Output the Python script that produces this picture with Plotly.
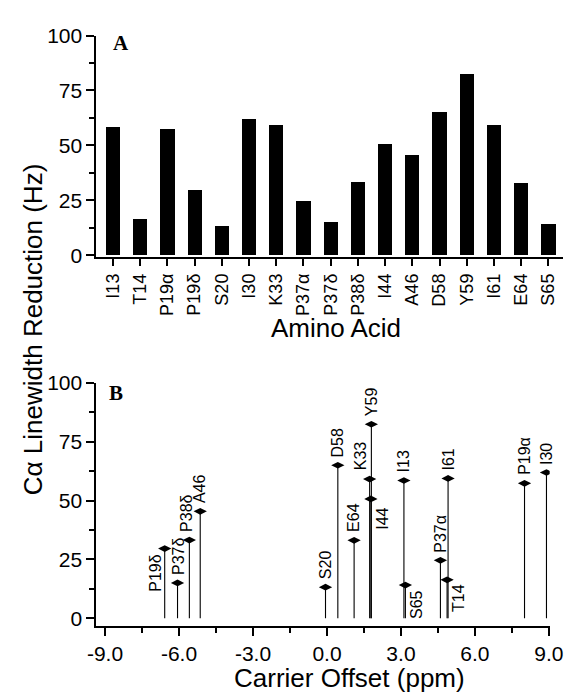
import plotly.graph_objects as go

# ---------------- data ----------------
residues = ["I13", "T14", "P19α", "P19δ", "S20", "I30", "K33", "P37α", "P37δ",
            "P38δ", "I44", "A46", "D58", "Y59", "I61", "E64", "S65"]
reduction_hz = [58.5, 16.3, 57.3, 29.6, 13.2, 61.9, 59.1, 24.6, 15.0,
                33.2, 50.7, 45.4, 65.0, 82.4, 59.4, 33.1, 14.1]
offset_ppm = [3.12, 4.87, 8.01, -6.58, -0.06, 8.90, 1.73, 4.60, -6.06,
              -5.58, 1.78, -5.14, 0.44, 1.80, 4.91, 1.10, 3.18]
y_tickvals = [0, 25, 50, 75, 100]
y_ticktext = ["0", "25", "50", "75", "100"]
ppm_tickvals = [-9, -6, -3, 0, 3, 6, 9]
ppm_ticktext = ["-9.0", "-6.0", "-3.0", "0.0", "3.0", "6.0", "9.0"]

W, H = 580, 700
SANS = "Liberation Sans, Arial, Helvetica, sans-serif"
SERIF = "Liberation Serif, Times New Roman, serif"


def px(x):
    return x / W


def py(y):
    return 1 - y / H


fig = go.Figure()

# Panel A bars
fig.add_trace(go.Bar(x=residues, y=reduction_hz, width=0.52,
                     marker=dict(color="black", line=dict(width=0)),
                     xaxis="x", yaxis="y", showlegend=False))

# Panel B stems
sx, sy = [], []
for p, v in zip(offset_ppm, reduction_hz):
    sx += [p, p, None]
    sy += [0, v, None]
fig.add_trace(go.Scatter(x=sx, y=sy, mode="lines",
                         line=dict(color="black", width=1.1),
                         xaxis="x2", yaxis="y2", showlegend=False,
                         hoverinfo="skip"))
fig.add_trace(go.Scatter(x=offset_ppm, y=reduction_hz, mode="markers",
                         marker=dict(symbol="diamond-wide", size=9.5,
                                     color="black"),
                         xaxis="x2", yaxis="y2", showlegend=False,
                         text=residues))

# label placement in panel B: (xshift, yanchor, yshift)
special = {"P19δ": (-10, "top", -5), "K33": (-9, "bottom", 8),
           "I44": (12, "top", -8), "S65": (11, "top", -4),
           "T14": (12, "top", -3), "P38δ": (-3, "bottom", 7),
           "P37δ": (1, "bottom", 7)}
annotations = []
for name, p, v in zip(residues, offset_ppm, reduction_hz):
    xs, ya, ys = special.get(name, (0, "bottom", 7))
    annotations.append(dict(x=p, y=v, xref="x2", yref="y2", text=name,
                            showarrow=False, textangle=-90,
                            xanchor="center", yanchor=ya,
                            xshift=xs, yshift=ys, borderpad=0,
                            font=dict(family=SANS, size=16, color="black")))

# titles and panel letters
annotations += [
    dict(x=px(25), y=py(327), xref="paper", yref="paper",
         text="Cα Linewidth Reduction (Hz)", showarrow=False, textangle=-90,
         xanchor="center", yanchor="middle",
         font=dict(family=SANS, size=26, color="black")),
    dict(x=px(340), y=py(326), xref="paper", yref="paper",
         text="Amino Acid", showarrow=False,
         xanchor="center", yanchor="middle",
         font=dict(family=SANS, size=26, color="black")),
    dict(x=px(355), y=py(687), xref="paper", yref="paper",
         text="Carrier Offset (ppm)", showarrow=False,
         xanchor="center", yanchor="middle",
         font=dict(family=SANS, size=26, color="black")),
    dict(x=px(106), y=py(32), xref="paper", yref="paper",
         text="<b>A</b>", showarrow=False,
         xanchor="left", yanchor="middle",
         font=dict(family=SERIF, size=21, color="black")),
    dict(x=px(102), y=py(393), xref="paper", yref="paper",
         text="<b>B</b>", showarrow=False,
         xanchor="left", yanchor="middle",
         font=dict(family=SERIF, size=21, color="black")),
]

axis_common = dict(showline=True, linecolor="black", linewidth=2,
                   ticks="outside", tickcolor="black", tickwidth=2,
                   showgrid=False, zeroline=False,
                   tickfont=dict(family=SANS, size=21, color="black"))

yaxis_common = dict(axis_common, tickmode="array", tickvals=y_tickvals,
                    ticktext=y_ticktext, ticklen=8,
                    minor=dict(tickmode="linear", tick0=0, dtick=12.5,
                               ticks="outside", ticklen=5, tickwidth=2,
                               tickcolor="black"))

fig.update_layout(
    width=W, height=H,
    margin=dict(l=0, r=0, t=0, b=0, pad=0),
    paper_bgcolor="white", plot_bgcolor="white",
    bargap=0,
    xaxis=dict(axis_common, domain=[px(91), px(577)], anchor="y",
               type="category", range=[-0.61, 16.54], tickangle=-90,
               ticklen=7, tickfont=dict(family=SANS, size=18, color="black")),
    yaxis=dict(yaxis_common, domain=[py(253), py(24.3)], anchor="x",
               range=[-1, 100]),
    xaxis2=dict(axis_common, domain=[px(91), px(563)], anchor="y2",
                range=[-9.35, 9.03], tickmode="array",
                tickvals=ppm_tickvals, ticktext=ppm_ticktext, ticklen=8,
                minor=dict(tickmode="linear", tick0=-9, dtick=1.5,
                           ticks="outside", ticklen=5, tickwidth=2,
                           tickcolor="black")),
    yaxis2=dict(yaxis_common, domain=[py(633), py(382.3)], anchor="x2",
                range=[-3.3, 100]),
    annotations=annotations,
)

fig.write_html("out.html",
               config={"displayModeBar": False, "staticPlot": True},
               post_script="document.body.style.margin='0px';"
                           "document.body.style.overflow='hidden';")
